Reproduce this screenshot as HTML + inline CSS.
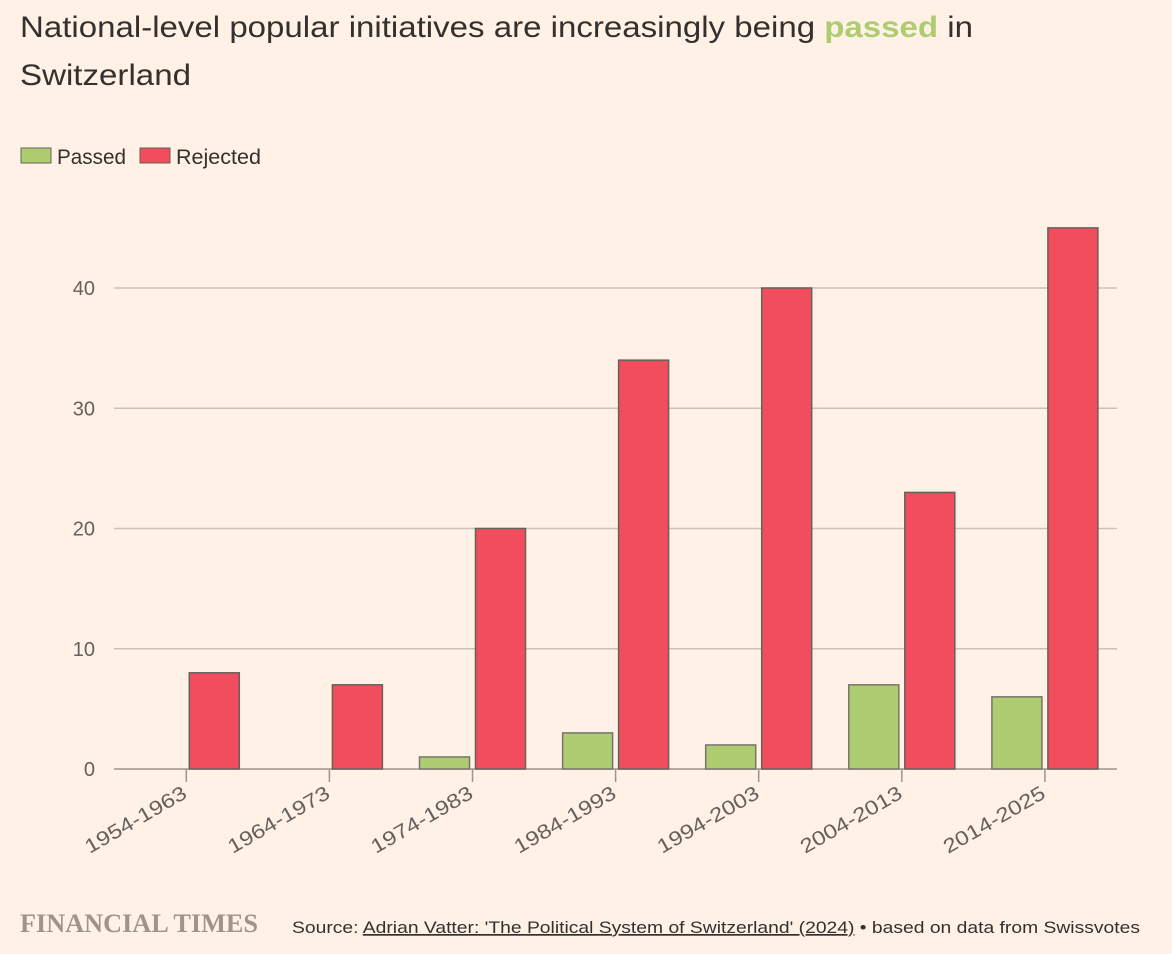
<!DOCTYPE html>
<html><head><meta charset="utf-8"><style>
body{margin:0;background:#fff1e5;width:1172px;height:949px;overflow:hidden;font-family:"Liberation Sans",sans-serif;}
</style></head><body>
<svg width="1172" height="949">
<text x="20" y="37" font-size="30" fill="#33302e" textLength="953" lengthAdjust="spacingAndGlyphs">National-level popular initiatives are increasingly being <tspan fill="#aecc70" font-weight="bold">passed</tspan> in</text>
<text x="20" y="85" font-size="30" fill="#33302e" textLength="171" lengthAdjust="spacingAndGlyphs">Switzerland</text>
<g>
<rect x="21" y="148" width="30" height="15" fill="#aecc70" stroke="#66605c"/>
<text x="57" y="164" font-size="21" fill="#33302e" textLength="69" lengthAdjust="spacingAndGlyphs">Passed</text>
<rect x="140" y="148" width="30" height="15" fill="#f24d5d" stroke="#66605c"/>
<text x="176" y="164" font-size="21" fill="#33302e" textLength="85" lengthAdjust="spacingAndGlyphs">Rejected</text>
</g>
<g id="plot"></g>
<text x="20" y="932" font-family="Liberation Serif,serif" font-size="26" font-weight="bold" fill="#9e948c" textLength="238" lengthAdjust="spacingAndGlyphs">FINANCIAL TIMES</text>
<text x="292" y="933" font-size="17" fill="#33302e" textLength="848" lengthAdjust="spacingAndGlyphs">Source: <tspan text-decoration="underline">Adrian Vatter: 'The Political System of Switzerland' (2024)</tspan> • based on data from Swissvotes</text>
</svg>
<script>
const categories=["1954-1963","1964-1973","1974-1983","1984-1993","1994-2003","2004-2013","2014-2025"];
const passed=[0,0,1,3,2,7,6];
const rejected=[8,7,20,34,40,23,45];
const yTicks=[0,10,20,30,40];
const NS="http://www.w3.org/2000/svg";
const g=document.getElementById('plot');
const y=v=>769-v*12.025;
const x=i=>186.3+i*143.1;
function mk(t,a){const e=document.createElementNS(NS,t);for(const k in a)e.setAttribute(k,a[k]);g.appendChild(e);return e;}
yTicks.forEach(t=>{
 if(t>0){const l=mk('line',{x1:114,x2:1117,y1:y(t),y2:y(t),stroke:'#ccc1b7','stroke-width':1.5});
 
 }
 const tx=mk('text',{x:95,y:y(t)+7,'text-anchor':'end','font-size':20,fill:'#66605c'});tx.textContent=t;
 
 
});
const ax=mk('line',{x1:114,x2:1117,y1:769,y2:769,stroke:'#9e948c','stroke-width':1.5});


categories.forEach((c,i)=>{
 const cx=x(i);
 const pb=mk('rect',{x:cx-53,y:y(passed[i]),width:50,height:Math.max(0,769-y(passed[i])),fill:'#aecc70',stroke:'#7a726c','stroke-width':1.5});
 
 
 const rb=mk('rect',{x:cx+3,y:y(rejected[i]),width:50,height:769-y(rejected[i]),fill:'#f24d5d',stroke:'#66605c','stroke-width':1.5});
 
 
 const tk=mk('line',{x1:cx,x2:cx,y1:769,y2:782,stroke:'#9e948c','stroke-width':1.5});
 
 
 const lb=mk('text',{x:cx+2,y:797,'text-anchor':'end','font-size':20,fill:'#66605c',textLength:114,lengthAdjust:'spacingAndGlyphs',transform:`rotate(-30 ${cx+2} 797)`});lb.textContent=c;
 
 
});
</script>
</body></html>
